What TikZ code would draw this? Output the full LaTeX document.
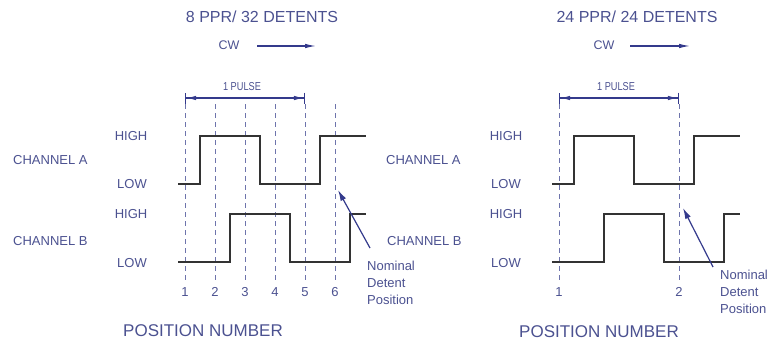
\documentclass[tikz,border=0pt]{standalone}
\usepackage{fontspec}
\setmainfont{Liberation Sans}
\usetikzlibrary{arrows.meta}
\definecolor{txt}{HTML}{4B5190}
\definecolor{arr}{HTML}{343A8C}
\definecolor{grd}{HTML}{6E74AC}
\definecolor{wav}{HTML}{333333}

\begin{document}
\begin{tikzpicture}[x=1pt,y=-1pt,
    every node/.style={text=txt,inner sep=0pt},
    title/.style={font=\fontsize{16}{18}\selectfont},
    lbl/.style={font=\fontsize{13}{15}\selectfont},
    num/.style={font=\fontsize{13}{15}\selectfont},
    note/.style={font=\fontsize{13}{17}\selectfont,align=left,anchor=west},
    axis/.style={font=\fontsize{17}{19}\selectfont},
    pulse/.style={font=\fontsize{11.5}{13}\selectfont},
    wave/.style={draw=wav,line width=1.5pt},
    grid/.style={draw=grd,line width=0.8pt,dash pattern=on 5pt off 4pt},
    dim/.style={draw=arr,line width=1.1pt},
    ptr/.style={draw=arr,line width=1.2pt,-{Latex[length=11pt,width=6pt]}}]
  \useasboundingbox (0,0) rectangle (773,345);

  % left diagram: 8 PPR / 32 detents
  \node[title] (t1) at (262,17) {8 PPR/ 32 DETENTS};
  \node[font=\fontsize{12.5}{14}\selectfont] (cw1) at (229,45) {CW};
  \coordinate (cw1a) at (257,46);
  \coordinate (cw1b) at (316,46);
  \draw[dim,-{Latex[length=11pt,width=4.5pt]}] (cw1a) -- (cw1b);
  \node[pulse] (p1) at (242,87) {\scalebox{0.8}[1]{1 PULSE}};
  \coordinate (p1a) at (185,98);
  \coordinate (p1b) at (305,98);
  \draw[dim,{Bar[width=11pt]Latex[length=10pt,width=4.5pt]}-{Latex[length=10pt,width=4.5pt]Bar[width=11pt]}] (p1a) -- (p1b);
  \foreach \x/\n in {185/1,215/2,245/3,275/4,305/5,335/6} {
    \draw[grid] (\x,104) -- (\x,282);
    \node[num] (n1-\n) at (\x,292) {\n};
  }
  \draw[wave] (178,184) -- (200,184) -- (200,136) -- (260,136) -- (260,184)
    -- (320,184) -- (320,136) -- (366,136);
  \draw[wave] (178,262) -- (230,262) -- (230,214) -- (290,214) -- (290,262)
    -- (350,262) -- (350,214) -- (366,214);
  \node[lbl,anchor=west] (cha1) at (13,160) {CHANNEL A};
  \node[lbl,anchor=west] (chb1) at (13,241) {CHANNEL B};
  \node[lbl] (hia1) at (131,136) {HIGH};
  \node[lbl] (loa1) at (132,184) {LOW};
  \node[lbl] (hib1) at (131,214) {HIGH};
  \node[lbl] (lob1) at (132,263) {LOW};
  \node[note] (nd1) at (367,283) {Nominal\\Detent\\Position};
  \coordinate (nd1a) at (370,248);
  \coordinate (nd1b) at (338,190);
  \draw[ptr] (nd1a) -- (nd1b);
  \node[axis] (ax1) at (203,331) {POSITION NUMBER};

  % right diagram: 24 PPR / 24 detents
  \node[title] (t2) at (637,17) {24 PPR/ 24 DETENTS};
  \node[font=\fontsize{12.5}{14}\selectfont] (cw2) at (604,45) {CW};
  \coordinate (cw2a) at (630,46);
  \coordinate (cw2b) at (690,46);
  \draw[dim,-{Latex[length=11pt,width=4.5pt]}] (cw2a) -- (cw2b);
  \node[pulse] (p2) at (616,87) {\scalebox{0.8}[1]{1 PULSE}};
  \coordinate (p2a) at (559,98);
  \coordinate (p2b) at (679,98);
  \draw[dim,{Bar[width=11pt]Latex[length=10pt,width=4.5pt]}-{Latex[length=10pt,width=4.5pt]Bar[width=11pt]}] (p2a) -- (p2b);
  \foreach \x/\n in {559/1,679/2} {
    \draw[grid] (\x,104) -- (\x,282);
    \node[num] (n2-\n) at (\x,292) {\n};
  }
  \draw[wave] (552,184) -- (574,184) -- (574,136) -- (634,136) -- (634,184)
    -- (694,184) -- (694,136) -- (740,136);
  \draw[wave] (552,262) -- (604,262) -- (604,214) -- (664,214) -- (664,262)
    -- (724,262) -- (724,214) -- (740,214);
  \node[lbl,anchor=west] (cha2) at (386,160) {CHANNEL A};
  \node[lbl,anchor=west] (chb2) at (387,241) {CHANNEL B};
  \node[lbl] (hia2) at (506,136) {HIGH};
  \node[lbl] (loa2) at (506,184) {LOW};
  \node[lbl] (hib2) at (506,214) {HIGH};
  \node[lbl] (lob2) at (506,263) {LOW};
  \node[note] (nd2) at (720,292) {Nominal\\Detent\\Position};
  \coordinate (nd2a) at (713,267);
  \coordinate (nd2b) at (683,208);
  \draw[ptr] (nd2a) -- (nd2b);
  \node[axis] (ax2) at (599,332) {POSITION NUMBER};
\end{tikzpicture}
\end{document}
